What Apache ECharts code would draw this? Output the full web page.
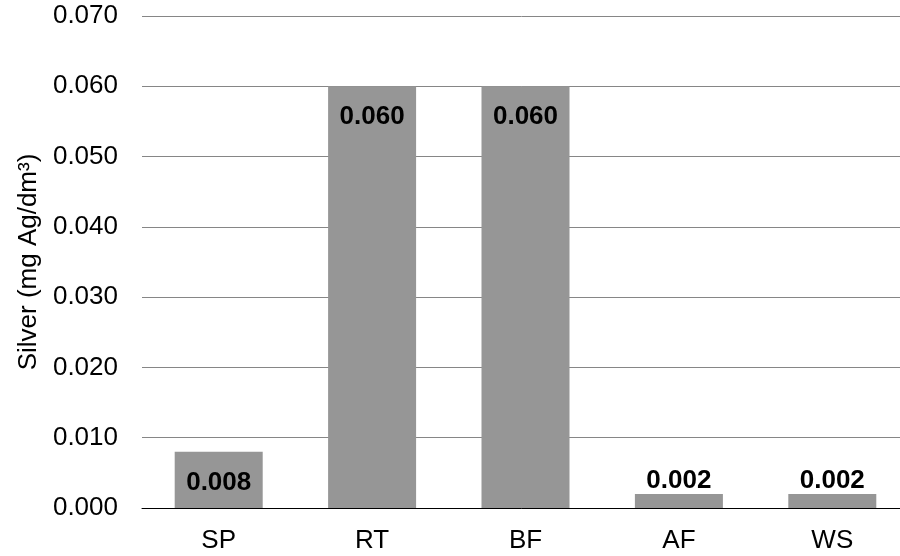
<!DOCTYPE html>
<html><head><meta charset="utf-8">
<script src="https://cdn.jsdelivr.net/npm/echarts@6/dist/echarts.min.js"></script>
<style>html,body{margin:0;padding:0;background:#fff}#c{width:900px;height:556px}</style>
</head><body><div id="c"></div>
<script>
const categories = ['SP', 'RT', 'BF', 'AF', 'WS'];
const silverValues = [0.008, 0.060, 0.060, 0.002, 0.002];
const yAxisTitle = 'Silver (mg Ag/dm\u00B3)';
const FONT = '"Liberation Sans", Arial, sans-serif';

const chart = echarts.init(document.getElementById('c'), null, {renderer: 'canvas'});
const barData = silverValues.map(v => ({
  value: v,
  label: v < 0.005 ? {position: 'top', distance: 0} : {position: 'insideTop', distance: 18}
}));
chart.setOption({
  animation: false,
  backgroundColor: '#fff',
  grid: {left: 142, right: -9, top: 16, bottom: 48, containLabel: false, outerBoundsMode: 'none'},
  xAxis: {
    type: 'category', data: categories,
    axisLine: {lineStyle: {color: '#000', width: 1}},
    axisTick: {show: false},
    axisLabel: {color: '#000', fontSize: 26, fontFamily: FONT, margin: 20}
  },
  yAxis: {
    type: 'value', min: 0, max: 0.07, interval: 0.01,
    name: yAxisTitle, nameLocation: 'middle', nameGap: 98, nameRotate: 90,
    nameTextStyle: {color: '#000', fontSize: 26, fontFamily: FONT},
    axisLine: {show: false}, axisTick: {show: false},
    axisLabel: {color: '#000', fontSize: 26, fontFamily: FONT, margin: 24,
      formatter: v => v.toFixed(3)},
    splitLine: {lineStyle: {color: '#868686', width: 1}}
  },
  series: [{
    type: 'bar', data: barData, barWidth: 88,
    itemStyle: {color: '#969696'},
    label: {show: true, color: '#000', fontSize: 26, fontWeight: 'bold', fontFamily: FONT,
      formatter: p => p.value.toFixed(3)}
  }]
});
</script></body></html>
